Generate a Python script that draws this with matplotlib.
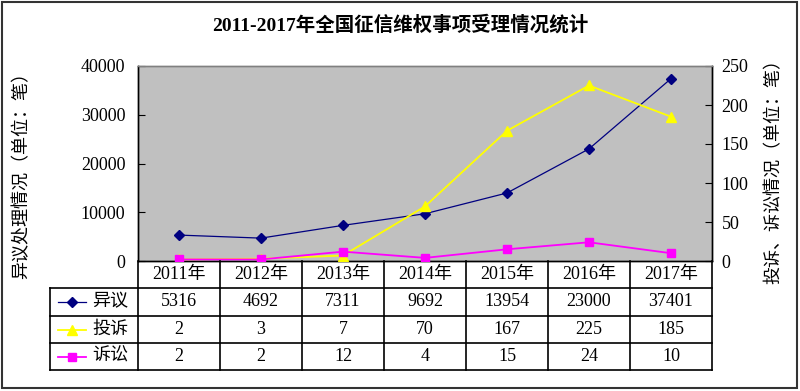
import matplotlib
matplotlib.use("Agg")
import matplotlib.pyplot as plt
from matplotlib.lines import Line2D
from matplotlib.patches import Rectangle
from matplotlib.transforms import blended_transform_factory

plt.rcParams["font.family"] = ["Liberation Serif", "Noto Sans CJK SC"]

years = ["2011年", "2012年", "2013年", "2014年", "2015年", "2016年", "2017年"]
series_names = ["异议", "投诉", "诉讼"]
objection = [5316, 4692, 7311, 9692, 13954, 23000, 37401]
complaint = [2, 3, 7, 70, 167, 225, 185]
lawsuit = [2, 2, 12, 4, 15, 24, 10]

W, H = 800, 391


def fx(px):
    return px / W


def fy(py):
    return 1 - py / H


styles = [
    dict(color="#000080", marker="D", markersize=5, lw=0.9),
    dict(color="#FFFF00", marker="^", markersize=7, lw=1.3),
    dict(color="#FF00FF", marker="s", markersize=6, lw=1.3),
]


def main():
    fig = plt.figure(figsize=(W / 100, H / 100), dpi=100)
    left, right, top, bottom = 138, 712, 66, 261
    ax = fig.add_axes([fx(left), fy(bottom), fx(right - left), (bottom - top) / H])
    ax.set_facecolor("#C0C0C0")
    ax2 = ax.twinx()

    x = list(range(len(years)))
    ax.plot(x, objection, **styles[0], zorder=3)
    ax2.plot(x, complaint, **styles[1], zorder=3)
    ax2.plot(x, lawsuit, **styles[2], zorder=4)

    ax.set_xlim(-0.5, len(years) - 0.5)
    ax.set_ylim(0, 40000)
    ax.set_yticks(range(0, 40001, 10000))
    ax2.set_ylim(0, 250)
    ax2.set_yticks(range(0, 251, 50))
    ax.set_xticks([])
    ax.tick_params(axis="y", direction="in", length=5, pad=9, labelsize=13)
    ax2.tick_params(axis="y", direction="in", length=5, pad=7, labelsize=13)
    for a in (ax, ax2):
        for s in a.spines.values():
            s.set_linewidth(1.0)
            s.set_color("black")
        a.spines["top"].set_color("#808080")

    # data table under the plot: columns follow the x axis categories
    tr = blended_transform_factory(ax.transData, fig.transFigure)
    x0, x1 = -0.5, len(years) - 0.5
    xl = x0 - 88 / 82
    row_edges = [288, 316, 343, 370]
    line_kw = dict(color="black", lw=1.2, transform=tr)
    for py in row_edges:
        fig.add_artist(Line2D([xl, x1], [fy(py), fy(py)], **line_kw))
    for k in range(len(years) + 1):
        xb = k - 0.5
        fig.add_artist(Line2D([xb, xb], [fy(bottom), fy(370)], **line_kw))
    fig.add_artist(Line2D([xl, xl], [fy(288), fy(370)], **line_kw))

    for i, yr in enumerate(years):
        fig.text(i, fy(275), yr, transform=tr, ha="center", va="center", fontsize=13)
    rows = [objection, complaint, lawsuit]
    for r, (name, vals, st) in enumerate(zip(series_names, rows, styles)):
        yc = fy((row_edges[r] + row_edges[r + 1]) / 2)
        fig.text(x0 - 0.12, yc, name, transform=tr, ha="right", va="center", fontsize=13)
        for i, v in enumerate(vals):
            fig.text(i, yc, str(v), transform=tr, ha="center", va="center", fontsize=13)
        # legend key
        fig.add_artist(Line2D([fx(58), fx(86)], [yc, yc], color=st["color"], lw=st["lw"],
                              transform=fig.transFigure))
        fig.add_artist(Line2D([fx(72)], [yc], color=st["color"], marker=st["marker"],
                              markersize=st["markersize"], transform=fig.transFigure))

    fig.text(0.5, fy(25), "2011-2017年全国征信维权事项受理情况统计", ha="center", va="center",
             fontsize=14, fontweight="bold")
    fig.text(fx(22), fy(171), "异议处理情况（单位：笔）", rotation=90, ha="center", va="center",
             fontsize=13)
    fig.text(fx(774), fy(167), "投诉、诉讼情况（单位：笔）", rotation=90, ha="center", va="center",
             fontsize=13)

    fig.add_artist(Rectangle((fx(2), fy(388)), fx(795), 386 / H, fill=False, lw=1.5,
                             edgecolor="#333333", transform=fig.transFigure))

    fig.savefig("out.png", dpi=100)


if __name__ == "__main__":
    main()
